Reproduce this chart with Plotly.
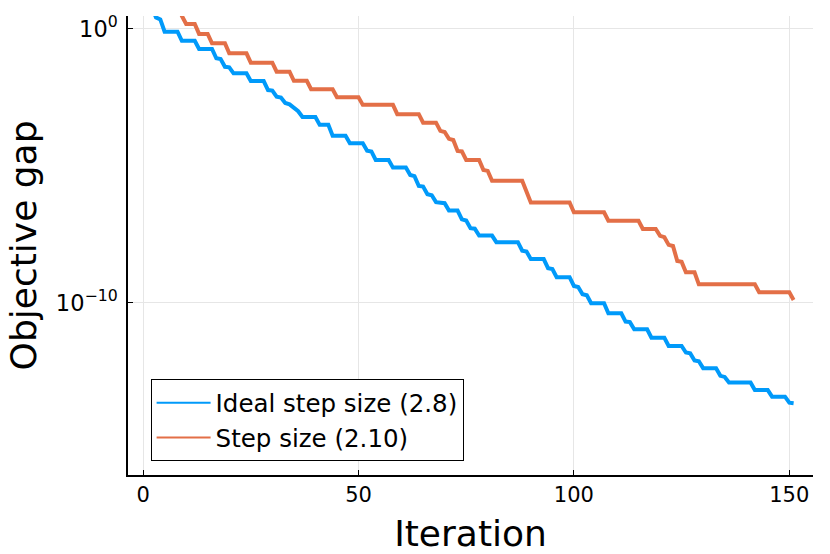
import numpy as np
import plotly.graph_objects as go

# Objective gap per iteration as log10 values at the
# corners of each staircase (the line is straight between them).
ideal_iter = [1, 2, 3, 4, 5, 8, 9, 12, 13, 16, 17, 18, 19, 20, 21, 24, 25, 28,
              29, 30, 31, 32, 33, 34, 35, 36, 37, 40, 41, 43, 44, 47, 48, 51,
              52, 53, 54, 57, 58, 61, 62, 63, 64, 65, 66, 67, 68, 70, 71, 73,
              74, 75, 76, 77, 78, 81, 82, 87, 88, 89, 90, 93, 94, 95, 96, 99,
              100, 101, 102, 103, 104, 107, 108, 111, 112, 113, 114, 117, 118,
              121, 122, 125, 126, 127, 128, 129, 130, 133, 134, 135, 136, 141,
              142, 145, 146, 149, 150, 151]
ideal_log10_gap = [1.2, 0.8, 0.42, 0.35, -0.1, -0.1, -0.43, -0.43, -0.73, -0.73,
                   -1.07, -1.1, -1.38, -1.4, -1.62, -1.62, -1.9, -1.9, -2.23,
                   -2.25, -2.47, -2.5, -2.7, -2.75, -2.88, -3.0, -3.21, -3.21,
                   -3.5, -3.5, -3.9, -3.9, -4.17, -4.17, -4.44, -4.47, -4.78,
                   -4.78, -5.06, -5.06, -5.33, -5.37, -5.73, -5.75, -6.03, -6.07,
                   -6.32, -6.36, -6.63, -6.63, -6.95, -6.99, -7.27, -7.29, -7.54,
                   -7.54, -7.78, -7.78, -8.09, -8.12, -8.4, -8.4, -8.73, -8.76,
                   -9.06, -9.06, -9.38, -9.42, -9.68, -9.72, -10.01, -10.01,
                   -10.38, -10.38, -10.68, -10.7, -10.96, -10.96, -11.27, -11.27,
                   -11.57, -11.57, -11.81, -11.84, -12.1, -12.13, -12.38, -12.38,
                   -12.66, -12.7, -12.9, -12.9, -13.18, -13.18, -13.42, -13.42,
                   -13.64, -13.66]

step_iter = [8, 9, 10, 12, 13, 15, 16, 19, 20, 24, 25, 30, 31, 34, 35, 38, 39,
             44, 45, 50, 51, 58, 59, 64, 65, 68, 69, 70, 71, 72, 73, 74, 75, 78,
             79, 80, 81, 88, 90, 99, 100, 107, 108, 115, 116, 119, 120, 121,
             122, 123, 124, 125, 126, 128, 129, 142, 143, 150, 151]
step_log10_gap = [0.9, 0.48, 0.18, 0.18, -0.18, -0.18, -0.52, -0.52, -0.89,
                  -0.89, -1.23, -1.23, -1.56, -1.56, -1.89, -1.89, -2.2, -2.2,
                  -2.49, -2.49, -2.77, -2.77, -3.11, -3.11, -3.42, -3.42, -3.72,
                  -3.76, -4.01, -4.05, -4.45, -4.47, -4.78, -4.78, -5.15, -5.18,
                  -5.54, -5.54, -6.33, -6.33, -6.69, -6.69, -7.0, -7.0, -7.3,
                  -7.3, -7.55, -7.6, -7.88, -7.92, -8.47, -8.5, -8.88, -8.88,
                  -9.32, -9.32, -9.61, -9.61, -9.89]

series_names = ["Ideal step size (2.8)", "Step size (2.10)"]
series_colors = ["#009afa", "#e36f47"]

x_ticks = [0, 50, 100, 150]
y_ticks = [1e0, 1e-10]
y_tick_text = ["10<sup>0</sup>", "10<sup>\u221210</sup>"]

FONT = "DejaVu Sans"

fig = go.Figure()

curves = [(ideal_iter, ideal_log10_gap), (step_iter, step_log10_gap)]
for (xs, logs), name, color in zip(curves, series_names, series_colors):
    fig.add_trace(go.Scatter(
        x=xs, y=10.0 ** np.asarray(logs), mode="lines", name=name,
        line=dict(color=color, width=4), showlegend=False,
    ))

# thinner legend samples, like the original
for name, color in zip(series_names, series_colors):
    fig.add_trace(go.Scatter(
        x=[None], y=[None], mode="lines", name=name,
        line=dict(color=color, width=2),
    ))

axis_common = dict(
    showgrid=True, gridcolor="#e6e6e6", gridwidth=1,
    showline=True, linecolor="black", linewidth=1.5,
    ticks="inside", ticklen=5, tickcolor="black", tickwidth=1,
    zeroline=False, automargin=False,
)

fig.update_xaxes(
    **axis_common, range=[-3.5, 155.5], tickvals=x_ticks,
    tickfont=dict(family=FONT, size=21, color="black"),
    title=dict(text="Iteration", font=dict(family=FONT, size=36, color="black"),
               standoff=15),
)
fig.update_yaxes(
    **axis_common, type="log", range=[-16.28, 0.474],
    tickvals=y_ticks, ticktext=y_tick_text, ticklabelstandoff=4,
    tickfont=dict(family=FONT, size=22.5, color="black"),
)

# y title as a rotated annotation so it can sit further left than plotly allows
fig.add_annotation(
    text="Objective gap", textangle=-90, showarrow=False,
    xref="paper", yref="paper", x=-0.152, y=0.5,
    xanchor="center", yanchor="middle",
    font=dict(family=FONT, size=36, color="black"),
)

fig.update_layout(
    width=830, height=554,
    margin=dict(l=128, r=17, t=16, b=79),
    paper_bgcolor="white", plot_bgcolor="white",
    font=dict(family=FONT, color="black"),
    legend=dict(
        x=0.033, y=0.03, xanchor="left", yanchor="bottom",
        bgcolor="white", bordercolor="black", borderwidth=1,
        font=dict(family=FONT, size=24.5, color="black"),
        tracegroupgap=0, itemwidth=54,
    ),
)

# drop the browser's default 8px body margin so the figure fills the window
fig.write_html("out.html", config={"displayModeBar": False},
               post_script="document.body.style.margin = '0';")
